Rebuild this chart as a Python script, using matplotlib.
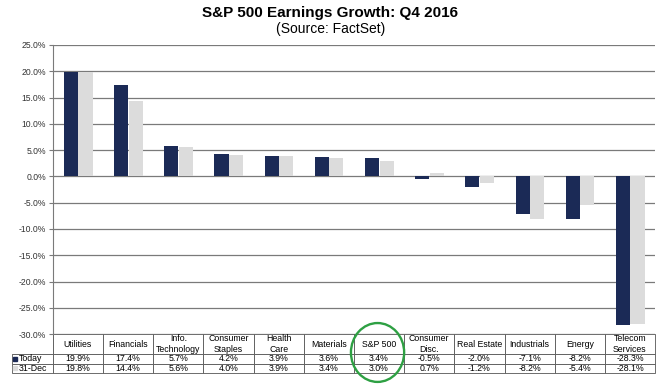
import numpy as np
import matplotlib.pyplot as plt
from matplotlib.patches import Ellipse

sectors = ['Utilities', 'Financials', 'Info.\nTechnology', 'Consumer\nStaples', 'Health\nCare',
           'Materials', 'S&P 500', 'Consumer\nDisc.', 'Real Estate', 'Industrials', 'Energy',
           'Telecom\nServices']
today = [19.9, 17.4, 5.7, 4.2, 3.9, 3.6, 3.4, -0.5, -2.0, -7.1, -8.2, -28.3]
dec31 = [19.8, 14.4, 5.6, 4.0, 3.9, 3.4, 3.0, 0.7, -1.2, -8.2, -5.4, -28.1]
row_names = ['Today', '31-Dec']

navy = '#1b2a56'
grey = '#dcdcdc'

fig = plt.figure(figsize=(6.61, 3.84), dpi=100)
ax = fig.add_axes([0.080, 0.130, 0.911, 0.753])

x = np.arange(len(sectors))
w = 0.28
ax.bar(x - 0.14, today, w, color=navy, zorder=3)
ax.bar(x + 0.15, dec31, w, color=grey, zorder=3)

ax.set_xlim(-0.5, len(sectors) - 0.5)
ax.set_ylim(-30, 25)
ax.set_yticks(np.arange(-30, 26, 5))
ax.set_yticklabels(['{:.1f}%'.format(v) for v in np.arange(-30, 26, 5)], fontsize=6.2,
                   color='#333333', family='Liberation Sans')
ax.set_xticks([])
ax.yaxis.grid(True, color='#7a7a7a', linewidth=0.9, zorder=0)
for s in ['top', 'right', 'bottom']:
    ax.spines[s].set_visible(False)
ax.spines['left'].set_color('#7a7a7a')
ax.tick_params(axis='y', length=3, color='#7a7a7a', pad=2)

fig.text(0.5, 0.965, 'S&P 500 Earnings Growth: Q4 2016', ha='center', va='center',
         fontsize=11, fontweight='bold', family='Liberation Sans')
fig.text(0.5, 0.925, '(Source: FactSet)', ha='center', va='center',
         fontsize=10, family='Liberation Sans')

# data table below the plot
cells = [[''] + sectors,
         [''] + ['{:.1f}%'.format(v) for v in today],
         [''] + ['{:.1f}%'.format(v) for v in dec31]]
ax_h = 0.753 * 384
tbl_h = 39
lab_w = 41 / 602
tbl = ax.table(cellText=cells, cellLoc='center',
               bbox=[-lab_w, -tbl_h / ax_h, 1 + lab_w, tbl_h / ax_h])
tbl.auto_set_font_size(False)
tbl.set_fontsize(6.3)
heights = [20, 9.5, 9.5]
for (r, c), cell in tbl.get_celld().items():
    cell.set_height(heights[r])
    cell.set_width(lab_w if c == 0 else 1 / len(sectors))
    cell.set_edgecolor('#555555')
    cell.set_linewidth(0.6)
    cell.get_text().set_family('Liberation Sans')
    if r == 0 and c == 0:
        cell.visible_edges = 'BR'
    if c == 0 and r > 0:
        cell.get_text().set_text(row_names[r - 1])
        cell.get_text().set_ha('left')
        cell._loc = 'left'
        cell.PAD = 0.17

# legend squares in the row labels
ty = [(-tbl_h + 9.5 * 1.5) / ax_h, (-tbl_h + 9.5 * 0.5) / ax_h]
for yy, col in zip(ty, [navy, grey]):
    ax.plot([-(53 - 15.5) / 602], [yy], marker='s', markersize=2.8, color=col,
            transform=ax.transAxes, clip_on=False)

# green ellipse around the S&P 500 column
xi = sectors.index('S&P 500')
ax.add_patch(Ellipse((xi - 0.03, -33.5), 1.06, 11.2, fill=False, edgecolor='#2ea043',
                     linewidth=1.7, clip_on=False, zorder=5))

fig.savefig('out.png', dpi=100)
